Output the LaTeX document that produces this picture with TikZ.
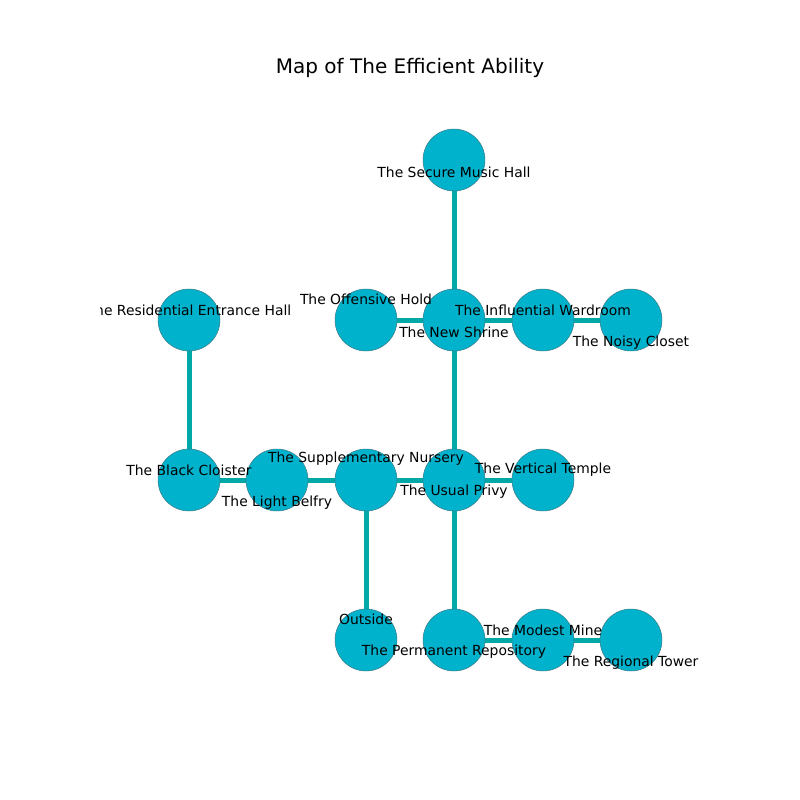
\documentclass[tikz,border=0pt]{standalone}
\usepackage{fontspec}
\setmainfont{DejaVu Sans}
\definecolor{edgec}{HTML}{00A8A8}
\definecolor{nodec}{HTML}{00B2CC}
\definecolor{nodeb}{HTML}{3A7F8A}
\begin{document}
\begin{tikzpicture}[x=0.72pt,y=-0.72pt,
  place/.style={circle,fill=nodec,draw=nodeb,line width=0.4pt,minimum size=44.6pt,inner sep=0pt},
  link/.style={draw=edgec,line width=3.6pt},
  lbl/.style={font=\fontsize{10pt}{12pt}\selectfont,inner sep=0pt,anchor=center}]
\useasboundingbox[fill=white] (0,0) rectangle (800,800);
\node[font=\fontsize{14.4pt}{17pt}\selectfont] (title) at (410,68) {Map of The Efficient Ability};
\begin{scope}
\clip (100,96) rectangle (720,712);
\coordinate (p1) at (454,160);
\coordinate (p2) at (189,320);
\coordinate (p3) at (366,320);
\coordinate (p4) at (454,320);
\coordinate (p5) at (543,320);
\coordinate (p6) at (631,320);
\coordinate (p7) at (189,480);
\coordinate (p8) at (277,480);
\coordinate (p9) at (366,480);
\coordinate (p10) at (454,480);
\coordinate (p11) at (543,480);
\coordinate (p12) at (366,640);
\coordinate (p13) at (454,640);
\coordinate (p14) at (543,640);
\coordinate (p15) at (631,640);
\draw[link] (p1) -- (p4);
\draw[link] (p3) -- (p4);
\draw[link] (p4) -- (p5);
\draw[link] (p5) -- (p6);
\draw[link] (p4) -- (p10);
\draw[link] (p2) -- (p7);
\draw[link] (p7) -- (p8);
\draw[link] (p8) -- (p9);
\draw[link] (p9) -- (p10);
\draw[link] (p10) -- (p11);
\draw[link] (p9) -- (p12);
\draw[link] (p10) -- (p13);
\draw[link] (p13) -- (p14);
\draw[link] (p14) -- (p15);
\foreach \i in {1,...,15} {\node[place] (n\i) at (p\i) {};}
\node[lbl] (l1) at (454,172) {The Secure Music Hall};
\node[lbl] (l2) at (189,310) {The Residential Entrance Hall};
\node[lbl] (l3) at (366,299) {The Offensive Hold};
\node[lbl] (l4) at (454,332) {The New Shrine};
\node[lbl] (l5) at (543,310) {The Influential Wardroom};
\node[lbl] (l6) at (631,343) {The Noisy Closet};
\node[lbl] (l7) at (189,470) {The Black Cloister};
\node[lbl] (l8) at (277,503) {The Light Belfry};
\node[lbl] (l9) at (366,459) {The Supplementary Nursery};
\node[lbl] (l10) at (454,492) {The Usual Privy};
\node[lbl] (l11) at (543,470) {The Vertical Temple};
\node[lbl] (l12) at (366,619) {Outside};
\node[lbl] (l13) at (454,652) {The Permanent Repository};
\node[lbl] (l14) at (543,630) {The Modest Mine};
\node[lbl] (l15) at (631,663) {The Regional Tower};
\end{scope}
\end{tikzpicture}
\end{document}
